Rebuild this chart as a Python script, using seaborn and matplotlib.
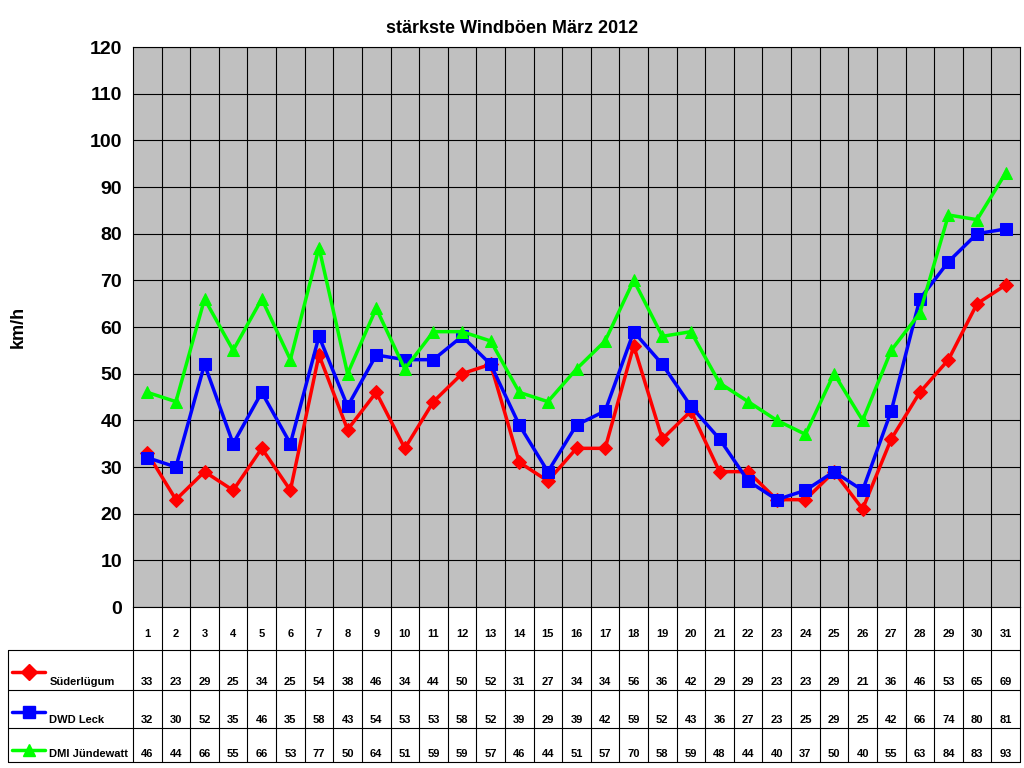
import matplotlib
matplotlib.use("Agg")
import matplotlib.pyplot as plt
import seaborn as sns
import pandas as pd

days = list(range(1, 32))
suederluegum = [33, 23, 29, 25, 34, 25, 54, 38, 46, 34, 44, 50, 52, 31, 27, 34, 34, 56, 36, 42, 29, 29, 23, 23, 29, 21, 36, 46, 53, 65, 69]
dwd_leck = [32, 30, 52, 35, 46, 35, 58, 43, 54, 53, 53, 58, 52, 39, 29, 39, 42, 59, 52, 43, 36, 27, 23, 25, 29, 25, 42, 66, 74, 80, 81]
dmi_juendewatt = [46, 44, 66, 55, 66, 53, 77, 50, 64, 51, 59, 59, 57, 46, 44, 51, 57, 70, 58, 59, 48, 44, 40, 37, 50, 40, 55, 63, 84, 83, 93]
series_names = ["Süderlügum", "DWD Leck", "DMI Jündewatt"]
colors = ["#ff0000", "#0000ff", "#00ff00"]
markers = ["D", "s", "^"]

df = pd.DataFrame({"day": days * 3,
                   "value": suederluegum + dwd_leck + dmi_juendewatt,
                   "station": sum([[n] * 31 for n in series_names], [])})

sns.set_style("white")
plt.rcParams["font.family"] = ["Liberation Sans", "DejaVu Sans"]
plt.rcParams["text.color"] = "black"
plt.rcParams["axes.labelcolor"] = "black"
plt.rcParams["ytick.color"] = "black"

fig = plt.figure(figsize=(10.24, 7.68), dpi=100)
W, H = 1024, 768
ax = fig.add_axes([133 / W, 1 - 607 / H, 887 / W, 560 / H])
ax.set_facecolor("#c0c0c0")
for name, c, m in zip(series_names, colors, markers):
    sns.lineplot(data=df[df.station == name], x="day", y="value", color=c,
                 marker=m, markersize=8 if m != "D" else 7, markeredgecolor=c,
                 linewidth=2.5, ax=ax, legend=False)
ax.set_xlim(0.5, 31.5)
ax.set_ylim(0, 120)
ax.set_yticks(range(0, 121, 10))
ax.set_yticklabels([str(v) for v in range(0, 121, 10)], fontsize=14, fontweight="bold")
ax.set_xticks([d + 0.5 for d in days[:-1]])
ax.set_xticklabels([])
ax.tick_params(axis="x", length=0)
ax.tick_params(axis="y", length=0, pad=8)
ax.grid(True, color="black", linewidth=0.8)
ax.set_axisbelow(True)
ax.set_xlabel("")
ax.set_ylabel("km/h", fontsize=13, fontweight="bold", labelpad=45)
for s in ax.spines.values():
    s.set_color("black")
fig.suptitle("stärkste Windböen März 2012", y=1 - 20 / H, fontsize=13, fontweight="bold")

# data table below the plot
tab = fig.add_axes([133 / W, 1 - 762 / H, 887 / W, 155 / H])
tab.set_xlim(0.5, 31.5)
tab.set_ylim(155, 0)
tab.axis("off")
left = 0.5 - 125 / 887 * 31
rows = [0, 43, 83, 121, 155]
for y in rows[1:]:
    tab.plot([left, 31.5], [y, y], color="black", lw=0.8, clip_on=False)
tab.plot([left, left], [43, 155], color="black", lw=0.8, clip_on=False)
for d in days:
    tab.plot([d + 0.5, d + 0.5], [0, 155], color="black", lw=0.8, clip_on=False)
tab.plot([0.5, 0.5], [0, 155], color="black", lw=0.8, clip_on=False)
for d in days:
    tab.text(d, 27, str(d), ha="center", va="center", fontsize=8, fontweight="bold")
for i, (name, vals, c, m) in enumerate(zip(series_names, [suederluegum, dwd_leck, dmi_juendewatt], colors, markers)):
    ytxt = rows[i + 2] - 8
    for d, v in zip(days, vals):
        tab.text(d, ytxt, str(v), ha="center", va="center", fontsize=8, fontweight="bold")
    ymk = rows[i + 1] + 22
    tab.plot([left + 0.15, left + 1.3], [ymk, ymk], color=c, lw=2.5, clip_on=False)
    tab.plot([left + 0.72], [ymk], color=c, marker=m, markersize=9 if m != "D" else 8,
             clip_on=False)
    tab.text(left + 1.45, ytxt, name, ha="left", va="center", fontsize=8, fontweight="bold")

fig.savefig("out.png", dpi=100)
